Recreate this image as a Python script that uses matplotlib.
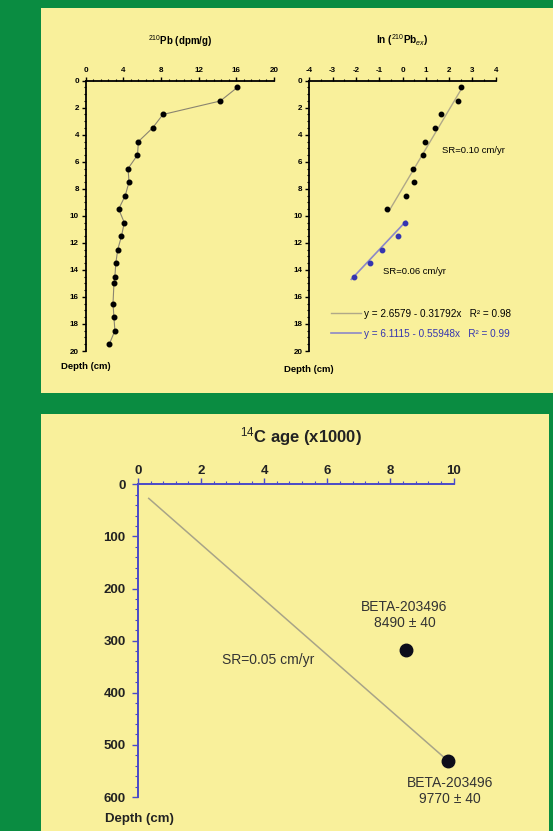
import matplotlib
matplotlib.use("Agg")
import matplotlib.pyplot as plt
from matplotlib.patches import Rectangle
from matplotlib.ticker import MultipleLocator

plt.rcParams['font.family'] = ['Liberation Sans', 'DejaVu Sans']
plt.rcParams['mathtext.fontset'] = 'custom'
plt.rcParams['mathtext.rm'] = 'Liberation Sans'
plt.rcParams['mathtext.it'] = 'Liberation Sans:italic'
plt.rcParams['mathtext.bf'] = 'Liberation Sans:bold'
plt.rcParams['axes.unicode_minus'] = False

# ---------------- data ----------------
pb_activity = [16.1, 14.3, 8.2, 7.1, 5.6, 5.5, 4.5, 4.6, 4.2, 3.5, 4.1, 3.8, 3.4, 3.2, 3.1, 3.0, 2.9, 3.0, 3.1, 2.5]
pb_depth = [0.5, 1.5, 2.5, 3.5, 4.5, 5.5, 6.5, 7.5, 8.5, 9.5, 10.5, 11.5, 12.5, 13.5, 14.5, 15.0, 16.5, 17.5, 18.5, 19.5]

ln_upper = [2.5, 2.4, 1.65, 1.4, 0.95, 0.9, 0.45, 0.5, 0.15, -0.65]
ln_upper_depth = [0.5, 1.5, 2.5, 3.5, 4.5, 5.5, 6.5, 7.5, 8.5, 9.5]
ln_lower = [0.1, -0.2, -0.9, -1.4, -2.1]
ln_lower_depth = [10.5, 11.5, 12.5, 13.5, 14.5]

fit_upper_ln = [2.6, -0.6]
fit_upper_depth = [0.4, 9.7]
fit_lower_ln = [0.15, -2.2]
fit_lower_depth = [10.4, 14.7]
fit_labels = ["y = 2.6579 - 0.31792x   R\u00b2 = 0.98",
              "y = 6.1115 - 0.55948x   R\u00b2 = 0.99"]

c14_age = [8.49, 9.81]
c14_depth = [318, 530]
c14_labels = ["BETA-203496\n8490 \u00b1 40", "BETA-203496\n9770 \u00b1 40"]
sr_age = [0.34, 9.68]
sr_depth = [27, 523]

# ---------------- style ----------------
GREEN = '#0a8c41'
YELLOW = '#f9f09b'
BLUE_AX = '#4a4ac8'

fig = plt.figure(figsize=(5.53, 8.31), dpi=100, facecolor=GREEN)
fig.patches.append(Rectangle((41/553, 1-393/831), 512/553, 385/831,
                             transform=fig.transFigure, facecolor=YELLOW,
                             edgecolor='none', zorder=-10))
fig.patches.append(Rectangle((41/553, 0), 508/553, 417/831,
                             transform=fig.transFigure, facecolor=YELLOW,
                             edgecolor='none', zorder=-10))

W, H = 553, 831
def axes_px(x0, x1, y0, y1):
    return fig.add_axes([x0/W, 1-y1/H, (x1-x0)/W, (y1-y0)/H])

def style_top(ax, color='black', lw=1.3, fs=5.8, mlen=3, nlen=1.8,
              xpad=2, ypad=2):
    ax.set_facecolor('none')
    for s in ['right', 'bottom']:
        ax.spines[s].set_visible(False)
    for s in ['top', 'left']:
        ax.spines[s].set_color(color)
        ax.spines[s].set_linewidth(lw)
    ax.xaxis.set_ticks_position('top')
    ax.xaxis.set_label_position('top')
    ax.tick_params(which='major', length=mlen, width=1, color=color,
                   labelsize=fs)
    ax.tick_params(axis='x', which='major', pad=xpad)
    ax.tick_params(axis='y', which='major', pad=ypad)
    ax.tick_params(which='minor', length=nlen, width=0.8, color=color)
    for lab in ax.get_xticklabels() + ax.get_yticklabels():
        lab.set_fontweight('bold')

# ---------------- top left ----------------
ax1 = axes_px(85.7, 274, 80.7, 351)
ax1.set_xlim(0, 20)
ax1.set_ylim(20, 0)
ax1.xaxis.set_major_locator(MultipleLocator(4))
ax1.xaxis.set_minor_locator(MultipleLocator(0.8))
ax1.yaxis.set_major_locator(MultipleLocator(2))
ax1.yaxis.set_minor_locator(MultipleLocator(0.5))
ax1.plot(pb_activity, pb_depth, color='#8a8470', lw=0.8, marker='o',
         ms=3.3, mfc='black', mec='black', clip_on=False)
style_top(ax1)
ax1.text(0.5, 1.145, r'$^{210}$Pb (dpm/g)', transform=ax1.transAxes,
         ha='center', va='center', fontsize=7, fontweight='bold')
ax1.text(0.0, -0.058, 'Depth (cm)', transform=ax1.transAxes,
         ha='center', va='center', fontsize=6.8, fontweight='bold')

# ---------------- top right ----------------
ax2 = axes_px(309.3, 495.7, 80.7, 351)
ax2.set_xlim(-4, 4)
ax2.set_ylim(20, 0)
ax2.xaxis.set_major_locator(MultipleLocator(1))
ax2.xaxis.set_minor_locator(MultipleLocator(0.5))
ax2.yaxis.set_major_locator(MultipleLocator(2))
ax2.yaxis.set_minor_locator(MultipleLocator(0.5))
ax2.plot(fit_upper_ln, fit_upper_depth, color='#b0a888', lw=1.0,
         label=fit_labels[0])
ax2.plot(fit_lower_ln, fit_lower_depth, color='#8c88c8', lw=1.2,
         label=fit_labels[1])
ax2.plot(ln_upper, ln_upper_depth, ls='none', marker='o', ms=3.2,
         mfc='black', mec='black')
ax2.plot(ln_lower, ln_lower_depth, ls='none', marker='o', ms=3.2,
         mfc='#3535b0', mec='#3535b0')
style_top(ax2)
ax2.text(0.5, 1.152, r'ln ($^{210}$Pb$_{ex}$)', transform=ax2.transAxes,
         ha='center', va='center', fontsize=7.2, fontweight='bold')
ax2.text(0.0, -0.07, 'Depth (cm)', transform=ax2.transAxes,
         ha='center', va='center', fontsize=6.8, fontweight='bold')
ax2.text(1.69, 5.13, 'SR=0.10 cm/yr', fontsize=6.8, va='center', ha='left')
ax2.text(-0.84, 14.1, 'SR=0.06 cm/yr', fontsize=6.8, va='center', ha='left')
leg = ax2.legend(loc='center left', bbox_to_anchor=(0.09, 0.10),
                 frameon=False, fontsize=7.2, handlelength=3.0,
                 handletextpad=0.3, labelspacing=1.0, borderpad=0,
                 labelcolor=['black', '#3535b0'])

# ---------------- bottom ----------------
ax3 = axes_px(138, 453.5, 484.3, 797)
ax3.set_xlim(0, 10)
ax3.set_ylim(600, 0)
ax3.xaxis.set_major_locator(MultipleLocator(2))
ax3.xaxis.set_minor_locator(MultipleLocator(0.4))
ax3.yaxis.set_major_locator(MultipleLocator(100))
ax3.yaxis.set_minor_locator(MultipleLocator(20))
ax3.plot(sr_age, sr_depth, color='#a8a488', lw=1.1)
ax3.plot(c14_age, c14_depth, ls='none', marker='o', ms=9,
         mfc='#0d0d1a', mec='#0d0d1a', clip_on=False)
style_top(ax3, color=BLUE_AX, lw=1.4, fs=9.5, mlen=4, nlen=2.5,
          xpad=1, ypad=5)
for lab in ax3.get_xticklabels() + ax3.get_yticklabels():
    lab.set_color('#222222')
ax3.text(0.515, 1.152, r'$^{14}$C age (x1000)', transform=ax3.transAxes,
         ha='center', va='center', fontsize=12, fontweight='bold',
         color='#222222')
ax3.text(0.003, -0.07, 'Depth (cm)', transform=ax3.transAxes,
         ha='center', va='center', fontsize=9.5, fontweight='bold',
         color='#222222')
ax3.text(2.66, 337, 'SR=0.05 cm/yr', fontsize=10, va='center', ha='left',
         color='#333333')
ax3.annotate(c14_labels[0], xy=(c14_age[0], c14_depth[0]), xytext=(-1, 25),
             textcoords='offset points', ha='center', va='center',
             fontsize=10, color='#333333', linespacing=1.15)
ax3.annotate(c14_labels[1], xy=(c14_age[1], c14_depth[1]), xytext=(2, -22),
             textcoords='offset points', ha='center', va='center',
             fontsize=10, color='#333333', linespacing=1.15)

fig.savefig('out.png', dpi=100, facecolor=GREEN)
